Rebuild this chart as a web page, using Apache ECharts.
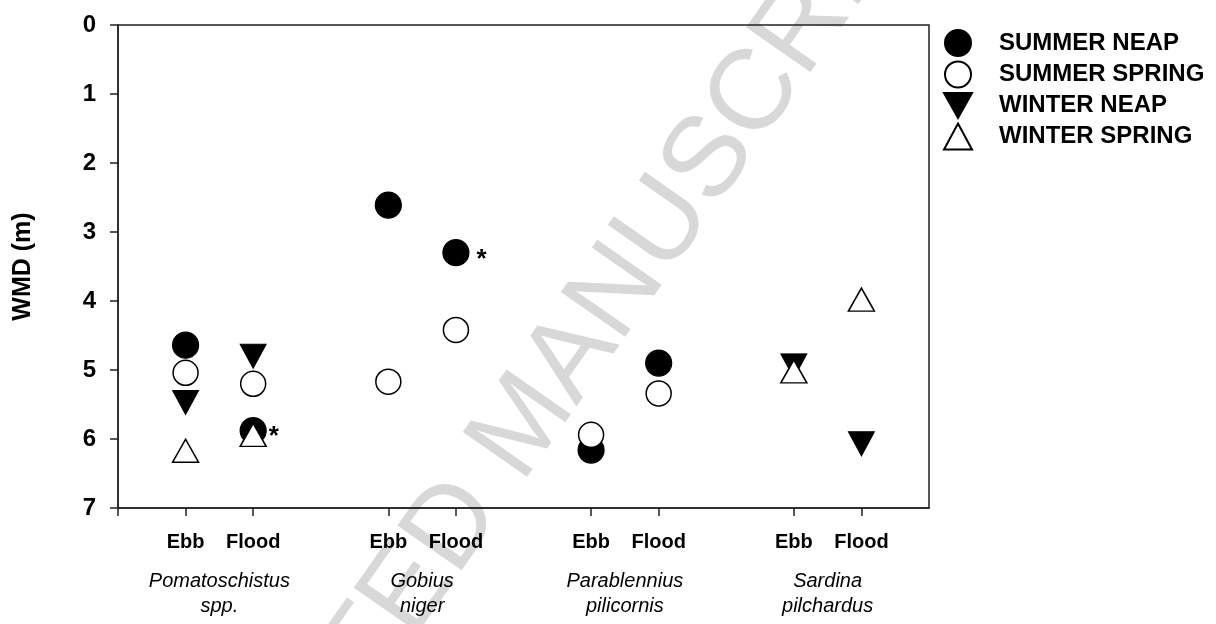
<!DOCTYPE html>
<html>
<head>
<meta charset="utf-8">
<script src="https://cdn.jsdelivr.net/npm/echarts@6/dist/echarts.min.js"></script>
<style>
html, body { margin: 0; padding: 0; background: #fff; }
#chart { width: 1216px; height: 624px; }
</style>
</head>
<body>
<div id="chart"></div>
<script>
// x positions of each Ebb/Flood column (value axis units)
const xPos = [1, 2, 4, 5, 7, 8, 10, 11]
const tideLabels = ['Ebb', 'Flood', 'Ebb', 'Flood', 'Ebb', 'Flood', 'Ebb', 'Flood']
const groupPos = [1.5, 4.5, 7.5, 10.5]
const speciesNames = ['Pomatoschistus\nspp.', 'Gobius\nniger', 'Parablennius\npilicornis', 'Sardina\npilchardus']
const yTicks = [0, 1, 2, 3, 4, 5, 6, 7]

// WMD (m) per column, null = no data
const summerNeap   = [4.64, 5.88, 2.61, 3.30, 6.16, 4.90, null, null]
const summerSpring = [5.04, 5.20, 5.17, 4.42, 5.94, 5.34, null, null]
const winterNeap   = [5.47, 4.80, null, null, null, null, 4.94, 6.07]
const winterSpring = [6.17, 5.94, null, null, null, null, 5.02, 3.98]
// columns with a significance asterisk (summer neap) and the label nudge
const starCols = { 1: [0, 6], 3: [5, 7] }

const font = "'Liberation Sans', Arial, sans-serif"
const chart = echarts.init(document.getElementById('chart'))

function toPoints(vals, withStar) {
    const pts = []
    vals.forEach((v, i) => {
        if (v === null) return
        const p = { value: [xPos[i], v] }
        if (withStar && starCols[i]) {
            p.label = { show: true, formatter: '*', position: 'right', distance: 2, offset: starCols[i],
                color: '#000', fontSize: 26, fontWeight: 'bold', fontFamily: font }
        }
        pts.push(p)
    })
    return pts
}

const base = { type: 'scatter', xAxisIndex: 0, yAxisIndex: 0 }
const series = [
    Object.assign({}, base, { name: 'SUMMER NEAP', symbol: 'circle', symbolSize: 26,
        itemStyle: { color: '#000', borderColor: '#000', borderWidth: 1.2, opacity: 1 },
        data: toPoints(summerNeap, true), z: 2 }),
    Object.assign({}, base, { name: 'SUMMER SPRING', symbol: 'circle', symbolSize: 25,
        itemStyle: { color: '#fff', borderColor: '#000', borderWidth: 1.5, opacity: 1 },
        data: toPoints(summerSpring), z: 3 }),
    Object.assign({}, base, { name: 'WINTER NEAP', symbol: 'triangle', symbolRotate: 180, symbolSize: [26, 24],
        itemStyle: { color: '#000', borderColor: '#000', borderWidth: 1, opacity: 1 },
        data: toPoints(winterNeap), z: 4 }),
    Object.assign({}, base, { name: 'WINTER SPRING', symbol: 'triangle', symbolSize: [26, 23],
        itemStyle: { color: '#fff', borderColor: '#000', borderWidth: 1.5, opacity: 1 },
        data: toPoints(winterSpring), z: 5 })
]

const option = {
    animation: false,
    backgroundColor: '#fff',
    graphic: {
        z: -10,
        elements: [{
            type: 'text', x: 525, y: 425, z: -10, silent: true,
            rotation: 55 * Math.PI / 180,
            style: { text: 'ACCEPTED MANUSCRIPT', fill: '#d8d8d8', font: '114px ' + font,
                align: 'center', verticalAlign: 'middle' }
        }]
    },
    grid: { left: 118, top: 25, width: 811, height: 483, show: true, containLabel: false,
        outerBoundsMode: 'none',
        borderColor: '#222', borderWidth: 1.5, backgroundColor: 'transparent' },
    legend: {
        orient: 'vertical', left: 943, top: 29, padding: 0, itemWidth: 28, itemHeight: 26, itemGap: 3.5,
        textStyle: { fontFamily: font, fontSize: 24, fontWeight: 'bold', color: '#000', padding: [0, 0, 0, 22] },
        data: [
            { name: 'SUMMER NEAP' },
            { name: 'SUMMER SPRING' },
            { name: 'WINTER NEAP', icon: 'path://M0,0L28,0L14,25Z' },
            { name: 'WINTER SPRING' }
        ]
    },
    xAxis: [{
        type: 'value', min: 0, max: 12, position: 'bottom',
        splitLine: { show: false },
        axisLine: { show: true, onZero: false, lineStyle: { color: '#222', width: 1.5 } },
        axisTick: { show: true, length: 8, lineStyle: { color: '#222', width: 1.5 }, customValues: [0].concat(xPos) },
        axisLabel: { customValues: xPos, margin: 24, color: '#000', fontFamily: font, fontSize: 20, fontWeight: 'bold',
            formatter: v => tideLabels[xPos.indexOf(v)] }
    }, {
        type: 'value', min: 0, max: 12, position: 'bottom',
        splitLine: { show: false }, axisLine: { show: false, onZero: false }, axisTick: { show: false },
        axisLabel: { customValues: groupPos, margin: 61, color: '#000', fontFamily: font, fontSize: 20,
            fontStyle: 'italic', lineHeight: 25, verticalAlign: 'top',
            formatter: v => speciesNames[groupPos.indexOf(v)] }
    }],
    yAxis: {
        type: 'value', inverse: true, min: 0, max: 7, interval: 1,
        name: 'WMD (m)', nameLocation: 'middle', nameGap: 82, nameRotate: 90,
        nameTextStyle: { fontFamily: font, fontSize: 25, fontWeight: 'bold', color: '#000' },
        splitLine: { show: false },
        axisLine: { show: true, onZero: false, lineStyle: { color: '#222', width: 1.5 } },
        axisTick: { show: true, length: 8, lineStyle: { color: '#222', width: 1.5 } },
        axisLabel: { margin: 22, color: '#000', fontFamily: font, fontSize: 24, fontWeight: 'bold',
            formatter: v => yTicks.indexOf(v) >= 0 ? String(v) : '' }
    },
    series: series
}
chart.setOption(option)
</script>
</body>
</html>
